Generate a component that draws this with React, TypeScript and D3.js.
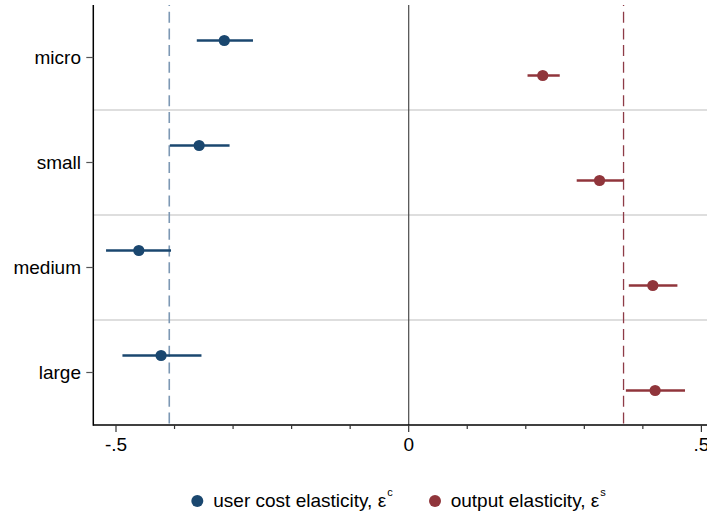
import React, { useEffect, useRef } from 'react';
import * as d3 from 'd3';

const categories = ['micro', 'small', 'medium', 'large'];

// user cost elasticity (blue)
const userCost = [-0.315, -0.358, -0.461, -0.423];
const userCostLo = [-0.362, -0.408, -0.517, -0.489];
const userCostHi = [-0.266, -0.306, -0.406, -0.354];

// output elasticity (red)
const output = [0.229, 0.326, 0.417, 0.421];
const outputLo = [0.203, 0.287, 0.376, 0.371];
const outputHi = [0.258, 0.367, 0.459, 0.472];

// dashed reference lines (averages)
const refUserCost = -0.409;
const refOutput = 0.367;

const majorTicks = [-0.5, 0, 0.5];
const majorLabels = ['-.5', '0', '.5'];
const minorTicks = [-0.4, -0.3, -0.2, -0.1, 0.1, 0.2, 0.3, 0.4];

const BLUE = '#1a476f';
const RED = '#90353b';
const FONT = 'Arial, "Liberation Sans", Helvetica, sans-serif';

function App() {
  const ref = useRef<SVGSVGElement>(null);

  useEffect(() => {
    const svg = d3.select(ref.current);
    svg.selectAll('*').remove();

    const width = 707, height = 515;
    const left = 93.3, right = 707, top = 5, bottom = 425;

    const x = d3.scaleLinear().domain([-0.5, 0.5]).range([116, 701.4]);
    const y = d3.scaleBand().domain(categories).range([top, bottom]).padding(0);
    const offset = d3.scalePoint().domain(['c', 's']).range([-17, 18]);
    const yc = (c: string) => (y(c) as number) + y.bandwidth() / 2;

    svg.attr('width', width).attr('height', height);
    svg.append('rect').attr('width', width).attr('height', height).attr('fill', '#fff');

    // separators between categories
    svg.append('g').selectAll('line')
      .data(categories.slice(1))
      .join('line')
      .attr('x1', left).attr('x2', right)
      .attr('y1', d => y(d) as number).attr('y2', d => y(d) as number)
      .attr('stroke', '#bdbdbd').attr('stroke-width', 1.2);

    // zero line
    svg.append('line')
      .attr('x1', x(0)).attr('x2', x(0))
      .attr('y1', top).attr('y2', bottom)
      .attr('stroke', '#4a4a4a').attr('stroke-width', 1.2);

    // dashed average lines
    const dashed = [
      { v: refUserCost, color: '#7d98b4', w: 1.6 },
      { v: refOutput, color: '#8e3b47', w: 1.3 },
    ];
    svg.append('g').selectAll('line')
      .data(dashed)
      .join('line')
      .attr('x1', d => x(d.v)).attr('x2', d => x(d.v))
      .attr('y1', top).attr('y2', bottom)
      .attr('stroke', d => d.color)
      .attr('stroke-width', d => d.w)
      .attr('stroke-dasharray', '11 5.7')
      .attr('stroke-dashoffset', 10);

    // axes
    svg.append('line')
      .attr('x1', left).attr('x2', left).attr('y1', top).attr('y2', bottom + 0.7)
      .attr('stroke', '#000').attr('stroke-width', 1.5);
    svg.append('line')
      .attr('x1', left).attr('x2', right).attr('y1', bottom).attr('y2', bottom)
      .attr('stroke', '#000').attr('stroke-width', 1.5);

    // x ticks
    svg.append('g').selectAll('line')
      .data(majorTicks)
      .join('line')
      .attr('x1', d => x(d)).attr('x2', d => x(d))
      .attr('y1', bottom).attr('y2', bottom + 7)
      .attr('stroke', '#333').attr('stroke-width', 1.2);
    svg.append('g').selectAll('line')
      .data(minorTicks)
      .join('line')
      .attr('x1', d => x(d)).attr('x2', d => x(d))
      .attr('y1', bottom).attr('y2', bottom + 4)
      .attr('stroke', '#333').attr('stroke-width', 1.2);
    svg.append('g').selectAll('text')
      .data(majorTicks)
      .join('text')
      .attr('x', d => x(d)).attr('y', 451)
      .attr('text-anchor', 'middle')
      .style('font-family', FONT).style('font-size', '19px')
      .attr('fill', '#000')
      .text((d, i) => majorLabels[i]);

    // y ticks
    svg.append('g').selectAll('line')
      .data(categories)
      .join('line')
      .attr('x1', left - 7).attr('x2', left)
      .attr('y1', d => yc(d)).attr('y2', d => yc(d))
      .attr('stroke', '#555').attr('stroke-width', 1.2);
    svg.append('g').selectAll('text')
      .data(categories)
      .join('text')
      .attr('x', 81).attr('y', d => yc(d))
      .attr('dy', '0.35em')
      .attr('text-anchor', 'end')
      .style('font-family', FONT).style('font-size', '19px')
      .attr('fill', '#000')
      .text(d => d);

    // series
    const series = [
      { key: 'c', color: BLUE, est: userCost, lo: userCostLo, hi: userCostHi },
      { key: 's', color: RED, est: output, lo: outputLo, hi: outputHi },
    ];
    series.forEach(s => {
      const g = svg.append('g');
      const off = offset(s.key) as number;
      g.selectAll('line')
        .data(categories)
        .join('line')
        .attr('x1', (d, i) => x(s.lo[i])).attr('x2', (d, i) => x(s.hi[i]))
        .attr('y1', d => yc(d) + off).attr('y2', d => yc(d) + off)
        .attr('stroke', s.color).attr('stroke-width', 2.6);
      g.selectAll('circle')
        .data(categories)
        .join('circle')
        .attr('cx', (d, i) => x(s.est[i]))
        .attr('cy', d => yc(d) + off)
        .attr('r', 5.6)
        .attr('fill', s.color);
    });

    // legend
    const legend = [
      { color: BLUE, cx: 197.3, tx: 213.3, text: 'user cost elasticity, ε', sup: 'c' },
      { color: RED, cx: 435, tx: 450.7, text: 'output elasticity, ε', sup: 's' },
    ];
    const lg = svg.append('g');
    legend.forEach(l => {
      lg.append('circle').attr('cx', l.cx).attr('cy', 501).attr('r', 6).attr('fill', l.color);
      const t = lg.append('text')
        .attr('x', l.tx).attr('y', 506.5)
        .style('font-family', FONT).style('font-size', '19px')
        .attr('fill', '#000');
      t.append('tspan').text(l.text);
      t.append('tspan')
        .attr('dx', 1).attr('dy', -11)
        .style('font-size', '11px')
        .text(l.sup);
    });
  }, []);

  return (
    <svg ref={ref} width={707} height={515}
      style={{ position: 'absolute', left: 0, top: 0, display: 'block' }} />
  );
}

export default App;
